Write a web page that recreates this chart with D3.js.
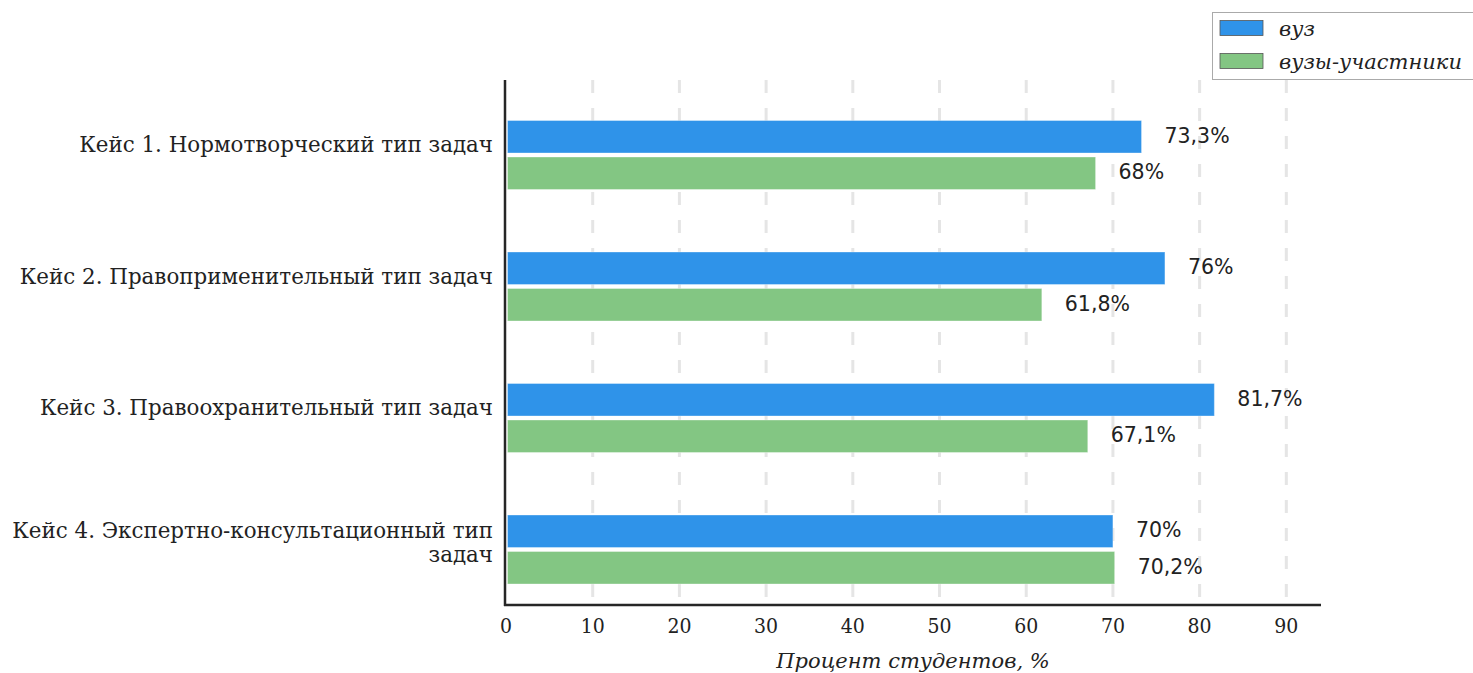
<!DOCTYPE html>
<html><head><meta charset="utf-8">
<script src="https://cdn.jsdelivr.net/npm/d3@7"></script>
<style>body{margin:0;background:#fff}</style>
</head><body><svg id="c" width="1473" height="673"></svg>
<script>
const categories = [
  ["Кейс 1. Нормотворческий тип задач"],
  ["Кейс 2. Правоприменительный тип задач"],
  ["Кейс 3. Правоохранительный тип задач"],
  ["Кейс 4. Экспертно-консультационный тип", "задач"]
];
const seriesNames = ["вуз", "вузы-участники"];
const vuz = [73.3, 76, 81.7, 70];
const participants = [68, 61.8, 67.1, 70.2];
const vuzLabels = ["73,3%", "76%", "81,7%", "70%"];
const partLabels = ["68%", "61,8%", "67,1%", "70,2%"];
const xTicks = [0, 10, 20, 30, 40, 50, 60, 70, 80, 90];
const colors = ["#2f93e9", "#83c683"];

(function () {
const svg = d3.select("#c");
const x = d3.scaleLinear().domain([0, 94]).range([506, 1321]);
const y = d3.scaleLinear().domain([0, 3]).range([155, 549.5]);
const plotTop = 80, plotBottom = 605;
const barH = 32.5, gap = 4;

// grid
svg.append("g").selectAll("line").data(xTicks.slice(1)).join("line")
  .attr("x1", d => x(d)).attr("x2", d => x(d))
  .attr("y1", plotTop).attr("y2", plotBottom)
  .attr("stroke", "#e5e5e5").attr("stroke-width", 3)
  .attr("stroke-dasharray", "13,15");

const series = [vuz, participants];
const labels = [vuzLabels, partLabels];
series.forEach((vals, s) => {
  const g = svg.append("g");
  g.selectAll("rect").data(vals).join("rect")
    .attr("x", x(0) + 1.5)
    .attr("y", (d, i) => s === 0 ? y(i) - gap / 2 - barH : y(i) + gap / 2)
    .attr("width", d => x(d) - x(0) - 1.5)
    .attr("height", barH)
    .attr("fill", colors[s])
    .attr("stroke", "#ffffff").attr("stroke-opacity", 0.35).attr("stroke-width", 1);
  g.selectAll("text").data(vals).join("text")
    .attr("x", d => x(d) + 23)
    .attr("y", (d, i) => (s === 0 ? y(i) - gap / 2 - barH / 2 : y(i) + gap / 2 + barH / 2) + 6)
    .attr("font-family", "DejaVu Sans, sans-serif")
    .attr("font-size", 20.5).attr("fill", "#222")
    .text((d, i) => labels[s][i]);
});

// axes lines
svg.append("line").attr("x1", 505).attr("x2", 505).attr("y1", plotTop).attr("y2", plotBottom + 1)
  .attr("stroke", "#262626").attr("stroke-width", 2.5);
svg.append("line").attr("x1", 504).attr("x2", 1321).attr("y1", plotBottom).attr("y2", plotBottom)
  .attr("stroke", "#262626").attr("stroke-width", 2.5);

// x tick labels
svg.append("g").selectAll("text").data(xTicks).join("text")
  .attr("x", d => x(d)).attr("y", 633)
  .attr("text-anchor", "middle")
  .attr("font-family", "DejaVu Serif Condensed, DejaVu Serif, serif")
  .attr("font-stretch", "condensed")
  .attr("font-size", 21).attr("fill", "#222")
  .text(d => d);

svg.append("text").attr("x", 913).attr("y", 668).attr("text-anchor", "middle")
  .attr("font-family", "DejaVu Serif, serif")
  .attr("font-style", "italic").attr("font-size", 21).attr("fill", "#222")
  .text("Процент студентов, %");

// category labels
categories.forEach((lines, i) => {
  const t = svg.append("text")
    .attr("text-anchor", "end")
    .attr("font-family", "DejaVu Serif, serif")
    .attr("font-size", 21.4).attr("fill", "#222");
  const y0 = lines.length === 1 ? y(i) - 3 : y(i) - 12;
  lines.forEach((l, k) => {
    t.append("tspan").attr("x", 493).attr("y", y0 + k * 24).text(l);
  });
});

// legend
const lg = svg.append("g");
lg.append("rect").attr("x", 1212.5).attr("y", 12.5).attr("width", 262).attr("height", 67)
  .attr("fill", "#fff").attr("stroke", "#aaa").attr("stroke-width", 1);
seriesNames.forEach((n, i) => {
  lg.append("rect").attr("x", 1220).attr("y", 20.5 + i * 33).attr("width", 43).attr("height", 15)
    .attr("fill", colors[i]).attr("stroke", "#555").attr("stroke-width", 0.8);
  lg.append("text").attr("x", 1279).attr("y", 36 + i * 33)
    .attr("font-family", "DejaVu Serif, serif").attr("font-style", "italic")
    .attr("font-size", 21).attr("fill", "#222").text(n);
});
})();
</script></body></html>
